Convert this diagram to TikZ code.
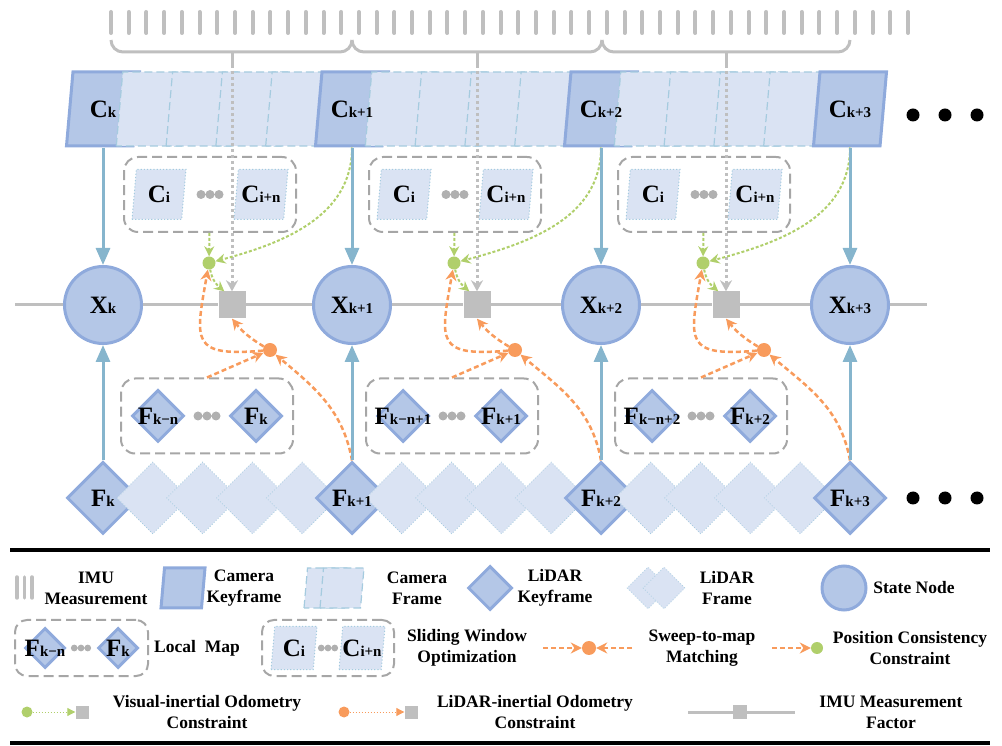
\documentclass[tikz,border=0pt]{standalone}
\usepackage{fontspec}
\setmainfont{Liberation Serif}
\usepackage{tikz}
\usetikzlibrary{arrows.meta,shapes.geometric,calc}
\definecolor{keyfill}{HTML}{B4C7E7}
\definecolor{keyline}{HTML}{8FAADC}
\definecolor{framefill}{HTML}{DAE3F3}
\definecolor{frameline}{HTML}{A5CBDF}
\definecolor{linkblue}{HTML}{86B5CD}
\definecolor{imugray}{HTML}{BFBFBF}
\definecolor{boxgray}{HTML}{A6A6A6}
\definecolor{dotgray}{HTML}{B0B0B0}
\definecolor{vgreen}{HTML}{B0CF6B}
\definecolor{lorange}{HTML}{F89B5C}
\newcommand{\nlab}[2]{{\fontsize{25}{25}\selectfont #1}{\fontsize{15}{15}\selectfont #2}}
\tikzset{
  camkey/.style={trapezium, trapezium left angle=85, trapezium right angle=95, trapezium stretches body, draw=keyline, line width=3pt, fill=keyfill, inner sep=0pt, text height=37pt, text depth=37pt, minimum width=73pt},
  camframe/.style={camkey, draw=frameline, line width=1.2pt, dash pattern=on 8pt off 4pt, fill=framefill},
  camsmall/.style={camframe, dotted, line width=1pt, text height=25pt, text depth=25pt, minimum width=54pt},
  camicon/.style={text height=20pt, text depth=20pt, minimum width=44pt},
  lidkey/.style={diamond, aspect=1, draw=keyline, line width=3pt, fill=keyfill, inner sep=0pt, minimum width=72pt, minimum height=72pt},
  lidframe/.style={lidkey, draw=frameline, line width=0.8pt, dotted, fill=framefill},
  lidsmall/.style={lidkey, minimum width=52pt, minimum height=52pt},
  statenode/.style={circle, draw=keyline, line width=3pt, fill=keyfill, minimum size=77pt, inner sep=0pt},
  factor/.style={rectangle, fill=imugray, minimum size=27pt, inner sep=0pt},
  winbox/.style={draw=boxgray, line width=2pt, dash pattern=on 10pt off 5pt, rounded corners=14pt, minimum width=172pt, minimum height=75pt, inner sep=0pt},
  gdot/.style={circle, fill=vgreen, minimum size=13pt, inner sep=0pt},
  odot/.style={circle, fill=lorange, minimum size=14pt, inner sep=0pt},
  lbl/.style={inner sep=0pt},
  legtext/.style={align=center, font=\fontsize{17.5}{21}\selectfont\bfseries},
  imutick/.style={imugray, line width=4pt, line cap=round},
  braceline/.style={imugray, line width=3pt, rounded corners=12pt},
  imuline/.style={imugray, line width=3pt},
  imuarrow/.style={imugray, line width=3pt, dash pattern=on 3pt off 3pt, -{Stealth[length=11pt, width=12pt]}},
  linkarrow/.style={linkblue, line width=3pt, -{Triangle[length=17pt, width=14pt]}},
  vio/.style={vgreen, line width=2pt, dash pattern=on 3pt off 2pt, -{Stealth[length=10pt, width=10pt]}},
  lidflow/.style={lorange, line width=2.5pt, dash pattern=on 5pt off 3pt, -{Stealth[length=11pt, width=11pt]}},
  vleg/.style={vgreen, line width=1pt, dotted, -{Triangle[length=8pt, width=8pt]}},
  lleg/.style={lorange, line width=1pt, dotted, -{Triangle[length=8pt, width=8pt]}},
  tridots/.pic={\fill[dotgray] (-9,0) circle (4.5) (0,0) circle (4.5) (9,0) circle (4.5);}
}

\begin{document}
\begin{tikzpicture}[x=1pt, y=1pt, font=\bfseries]
  \useasboundingbox (0,0) rectangle (1002,745);

  \foreach \t in {0,...,45}
    \draw[imutick] ({111+17.71*\t},733) -- ++(0,-21);
  \foreach \a/\m/\b [count=\i from 0] in {111/232/352, 352/477/602, 602/726/850} {
    \draw[braceline] (\a,705) -- (\a,693) -- (\b,693) -- (\b,705);
    \draw[imuline] (\m,693) -- (\m,680);
    \coordinate (bt\i) at (\m,680);
  }

  \foreach \k in {0,...,3} {
    \node[camkey] (ck\k) at ({103+249*\k},636) {};
    \ifnum\k<3
      \foreach \f in {1,...,4}
        \node[camframe] (cf\k\f) at ({103+249*\k+49.8*\f},636) {};
    \fi
  }
  \foreach \k in {0,...,3} {
    \node[lidkey] (lk\k) at ({103+249*\k},247) {};
    \ifnum\k<3
      \foreach \f in {1,...,4}
        \node[lidframe] (lf\k\f) at ({103+249*\k+49.8*\f},247) {};
    \fi
  }
  \foreach \k/\s in {0/k,1/k+1,2/k+2,3/k+3} {
    \node[lbl] (ckl\k) at (ck\k) {\nlab{C}{\s}};
    \node[lbl] (lkl\k) at (lk\k) {\nlab{F}{\s}};
    \node[statenode] (x\k) at ({103+249*\k},440) {\nlab{X}{\s}};
  }
  \foreach \x in {913,945,977} {
    \fill (\x,630) circle (6.5);
    \fill (\x,247) circle (6.5);
  }

  \coordinate (hl) at (15,440);
  \coordinate (hr) at (927,440);
  \foreach \i/\m in {0/232, 1/477, 2/726}
    \node[factor] (sq\i) at (\m,440) {};
  \draw[imuline] (hl) -- (x0) -- (sq0) -- (x1) -- (sq1) -- (x2) -- (sq2) -- (x3) -- (hr);

  \foreach \i/\m/\p/\q [count=\j from 1] in {0/232/k−n/k, 1/477/k−n+1/k+1, 2/726/k−n+2/k+2} {
    \node[winbox] (cw\i) at ({\m-22},550.5) {};
    \node[camsmall] (ci\i) at ({\m-73},550.5) {};
    \node[camsmall] (cn\i) at ({\m+29},550.5) {};
    \node[lbl] (cil\i) at (ci\i) {\nlab{C}{i}};
    \node[lbl] (cnl\i) at (cn\i) {\nlab{C}{i+n}};
    \pic at ({\m-22},550.5) {tridots};
    \node[winbox] (lw\i) at ({\m-25},329) {};
    \node[lidsmall] (ln\i) at ({\m-74},329) {};
    \node[lidsmall] (lm\i) at ({\m+24},329) {};
    \pic at ({\m-25},329) {tridots};
    \node[lbl] (lnl\i) at (ln\i) {\nlab{F}{\p}};
    \node[lbl] (lml\i) at (lm\i) {\nlab{F}{\q}};
    \node[gdot] (gd\i) at ({\m-23},482) {};
    \node[odot] (od\i) at ({\m+38},395) {};

    \draw[imuarrow] (bt\i) -- (sq\i);
    \draw[vio] (cw\i) -- (gd\i);
    \draw[vio] (ck\j.south) to[out=-90, in=15] (gd\i);
    \draw[vio] (gd\i) to[out=-80, in=140] ([xshift=6pt]sq\i.north west);
    \draw[lidflow] (lw\i.north) -- (od\i);
    \draw[lidflow] (lk\j.north) to[out=100, in=-40] (od\i);
    \draw[lidflow] (od\i) to[bend left=10] (sq\i.south);
    \draw[lidflow] (od\i) to[out=185, in=-100, looseness=1.9] (gd\i);
  }
  \foreach \k in {0,...,3} {
    \draw[linkarrow] (x\k |- ck\k.south) -- (x\k);
    \draw[linkarrow] (lk\k) -- (x\k);
  }

  \coordinate (ltopl) at (10,195);
  \coordinate (ltopr) at (990,195);
  \coordinate (lbotl) at (10,2);
  \coordinate (lbotr) at (990,2);
  \draw[line width=3.5pt] (ltopl) -- (ltopr);
  \draw[line width=3.5pt] (lbotl) -- (lbotr);

  \foreach \x in {17,24.5,32}
    \draw[imutick, line width=3.5pt] (\x,168) -- (\x,147);
  \node[legtext] (limu) at (96,157) {IMU\\Measurement};
  \node[camkey, camicon] (lck) at (183,157) {};
  \node[legtext] (lckt) at (244,157) {Camera\\Keyframe};
  \node[camframe, camicon] (lcf1) at (326,157) {};
  \node[camframe, camicon] (lcf2) at (342,157) {};
  \node[legtext] (lcft) at (417,157) {Camera\\Frame};
  \node[lidkey, minimum width=44pt, minimum height=44pt] (llk) at (490,157) {};
  \node[legtext] (llkt) at (555,157) {LiDAR\\Keyframe};
  \node[lidframe, minimum width=42pt, minimum height=42pt] (llf1) at (648,157) {};
  \node[lidframe, minimum width=42pt, minimum height=42pt] (llf2) at (664,157) {};
  \node[legtext] (llft) at (727,157) {LiDAR\\Frame};
  \node[statenode, minimum size=44pt] (lsn) at (844,157) {};
  \node[legtext] (lsnt) at (914,157) {State Node};

  \node[winbox, minimum width=133pt, minimum height=56pt, rounded corners=12pt] (llm) at (81.5,97) {};
  \node[lidsmall, minimum width=40pt, minimum height=40pt] (llm1) at (45,97) {};
  \node[lidsmall, minimum width=40pt, minimum height=40pt] (llm2) at (118,97) {};
  \pic[scale=.75] at (81,97) {tridots};
  \node[lbl] (llm1l) at (45,97) {\nlab{F}{k−n}};
  \node[lbl] (llm2l) at (118,97) {\nlab{F}{k}};
  \node[legtext] (llmt) at (197,97) {Local~~Map};
  \node[winbox, minimum width=132pt, minimum height=56pt, rounded corners=12pt] (lsw) at (328,97) {};
  \node[camsmall, text height=21.5pt, text depth=21.5pt, minimum width=46pt] (lsw1) at (294,97) {};
  \node[camsmall, text height=21.5pt, text depth=21.5pt, minimum width=46pt] (lsw2) at (362,97) {};
  \node[lbl] (lsw1l) at (lsw1) {\nlab{C}{i}};
  \node[lbl] (lsw2l) at (lsw2) {\nlab{C}{i+n}};
  \pic[scale=.75] at (328,97) {tridots};
  \node[legtext] (lswt) at (467,97) {Sliding Window\\Optimization};
  \coordinate (lsml) at (543,97);
  \coordinate (lsmr) at (632,97);
  \node[odot] (lsm) at (589,97) {};
  \draw[lidflow] (lsml) -- (lsm);
  \draw[lidflow] (lsmr) -- (lsm);
  \node[legtext] (lsmt) at (702,97) {Sweep-to-map\\Matching};
  \coordinate (lpcl) at (772,97);
  \node[gdot, minimum size=12pt] (lpc) at (817,97) {};
  \draw[lidflow] (lpcl) -- (lpc);
  \node[legtext] (lpct) at (910,97) {Position Consistency\\Constraint};

  \node[gdot, minimum size=11pt] (lvd) at (27,33) {};
  \node[factor, minimum size=13pt] (lvs) at (82,33) {};
  \draw[vleg] (lvd) -- (lvs);
  \node[legtext] (lvt) at (207,33) {Visual-inertial Odometry\\Constraint};
  \node[odot, minimum size=11pt] (lld) at (344,33) {};
  \node[factor, minimum size=13pt] (lls) at (411,33) {};
  \draw[lleg] (lld) -- (lls);
  \node[legtext] (llt) at (535,33) {LiDAR-inertial Odometry\\Constraint};
  \coordinate (lfl) at (688,33);
  \coordinate (lfr) at (795,33);
  \node[factor, minimum size=14pt] (lfs) at (740,33) {};
  \draw[imuline] (lfl) -- (lfs) -- (lfr);
  \node[legtext] (lft) at (891,33) {IMU Measurement\\Factor};
\end{tikzpicture}
\end{document}
